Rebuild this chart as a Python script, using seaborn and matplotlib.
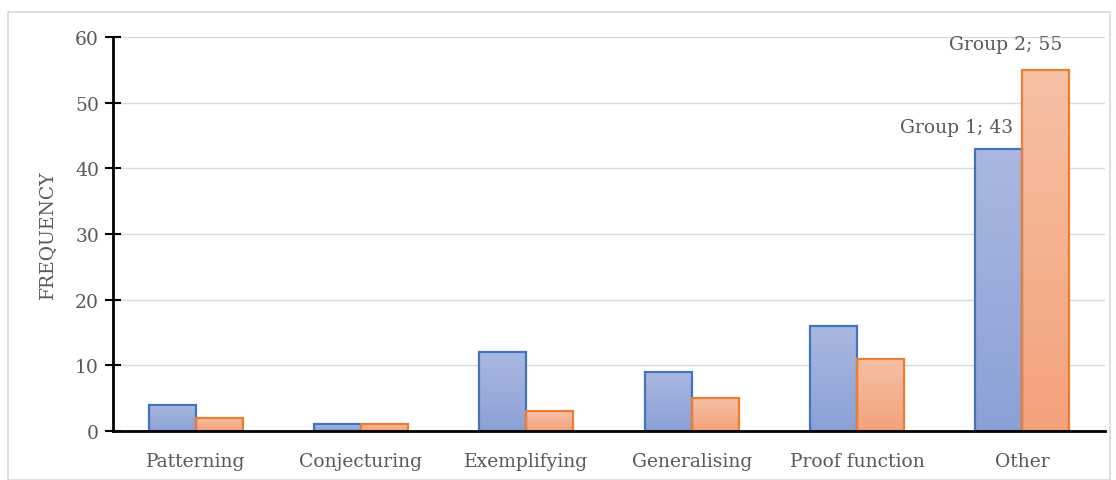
import numpy as np
import pandas as pd
import matplotlib.pyplot as plt
from matplotlib.patches import Rectangle
from matplotlib.colors import LinearSegmentedColormap
from matplotlib.ticker import MultipleLocator

import seaborn as sns
sns.set_style("white")
plt.rcParams["font.family"] = ["DejaVu Serif"]

categories = ["Patterning", "Conjecturing", "Exemplifying", "Generalising", "Proof function", "Other"]
group1 = [4, 1, 12, 9, 16, 43]
group2 = [2, 1, 3, 5, 11, 55]
groups = ["Group 1", "Group 2"]

edge_colors = {"Group 1": "#4472c4", "Group 2": "#ed7d31"}
grad = {"Group 1": ("#aab8df", "#8ba1d6"), "Group 2": ("#f6c0a4", "#f3a27c")}
text_grey = "#595959"
fs = 13.5

df = pd.DataFrame({
    "category": categories * 2,
    "group": [groups[0]] * len(categories) + [groups[1]] * len(categories),
    "value": group1 + group2,
})

fig = plt.figure(figsize=(11.16, 4.81), dpi=100)
fig.patches.append(Rectangle((8 / 1116, 0), 1 - 14 / 1116, 1 - 13 / 481, transform=fig.transFigure,
                             fill=False, edgecolor="#d9d9d9", linewidth=1.2))
ax = fig.add_axes([113 / 1116, 49 / 481, 992 / 1116, 394 / 481])

sns.barplot(data=df, x="category", y="value", hue="group", order=categories, hue_order=groups,
            palette=[grad[g][1] for g in groups], width=0.57, legend=False, ax=ax)

# gradient fill for each bar
for i, container in enumerate(ax.containers):
    g = groups[i]
    cmap = LinearSegmentedColormap.from_list(g, [grad[g][1], grad[g][0]])
    for bar in container:
        bar.set_edgecolor(edge_colors[g])
        bar.set_linewidth(1.6)
        bar.set_facecolor("none")
        x0, y0 = bar.get_x(), bar.get_y()
        w, h = bar.get_width(), bar.get_height()
        im = ax.imshow(np.linspace(0, 1, 64).reshape(-1, 1), cmap=cmap, origin="lower",
                       extent=[x0, x0 + w, y0, y0 + h], aspect="auto", zorder=bar.get_zorder() - 0.1)
        im.set_clip_path(bar)
ax.set_xlim(-0.5, len(categories) - 0.5)
ax.set_ylim(0, 60)

# data labels on the last category
last = len(categories) - 1
ax.annotate(f"{groups[0]}; {group1[last]}", xy=(last - 0.055, group1[last]), xytext=(0, 9),
            textcoords="offset points", ha="right", va="bottom", color=text_grey, fontsize=fs)
ax.annotate(f"{groups[1]}; {group2[last]}", xy=(last - 0.1, group2[last]), xytext=(0, 12),
            textcoords="offset points", ha="center", va="bottom", color=text_grey, fontsize=fs)

ax.yaxis.set_major_locator(MultipleLocator(10))
ax.yaxis.set_minor_locator(MultipleLocator(2))
ax.grid(axis="y", color="#d9d9d9", linewidth=1)
ax.set_axisbelow(True)

ax.set_xticks(np.arange(-0.5, len(categories), 1), minor=True)
ax.tick_params(axis="x", which="major", length=0, pad=15, labelsize=fs, labelcolor=text_grey)
ax.tick_params(axis="x", which="minor", direction="in", length=6, width=1.5, color="black")
ax.tick_params(axis="y", which="major", direction="inout", length=12, width=1.5, color="black",
               labelsize=fs, labelcolor=text_grey, pad=4)
ax.tick_params(axis="y", which="minor", direction="in", length=4, width=1.2, color="black")
ax.tick_params(left=True, bottom=True)

sns.despine(ax=ax)
for s in ["left", "bottom"]:
    ax.spines[s].set_linewidth(2)
    ax.spines[s].set_color("black")

ax.set_xlabel("")
ax.set_ylabel("FREQUENCY", color=text_grey, fontsize=fs, labelpad=14)

fig.savefig("out.png", dpi=100)
